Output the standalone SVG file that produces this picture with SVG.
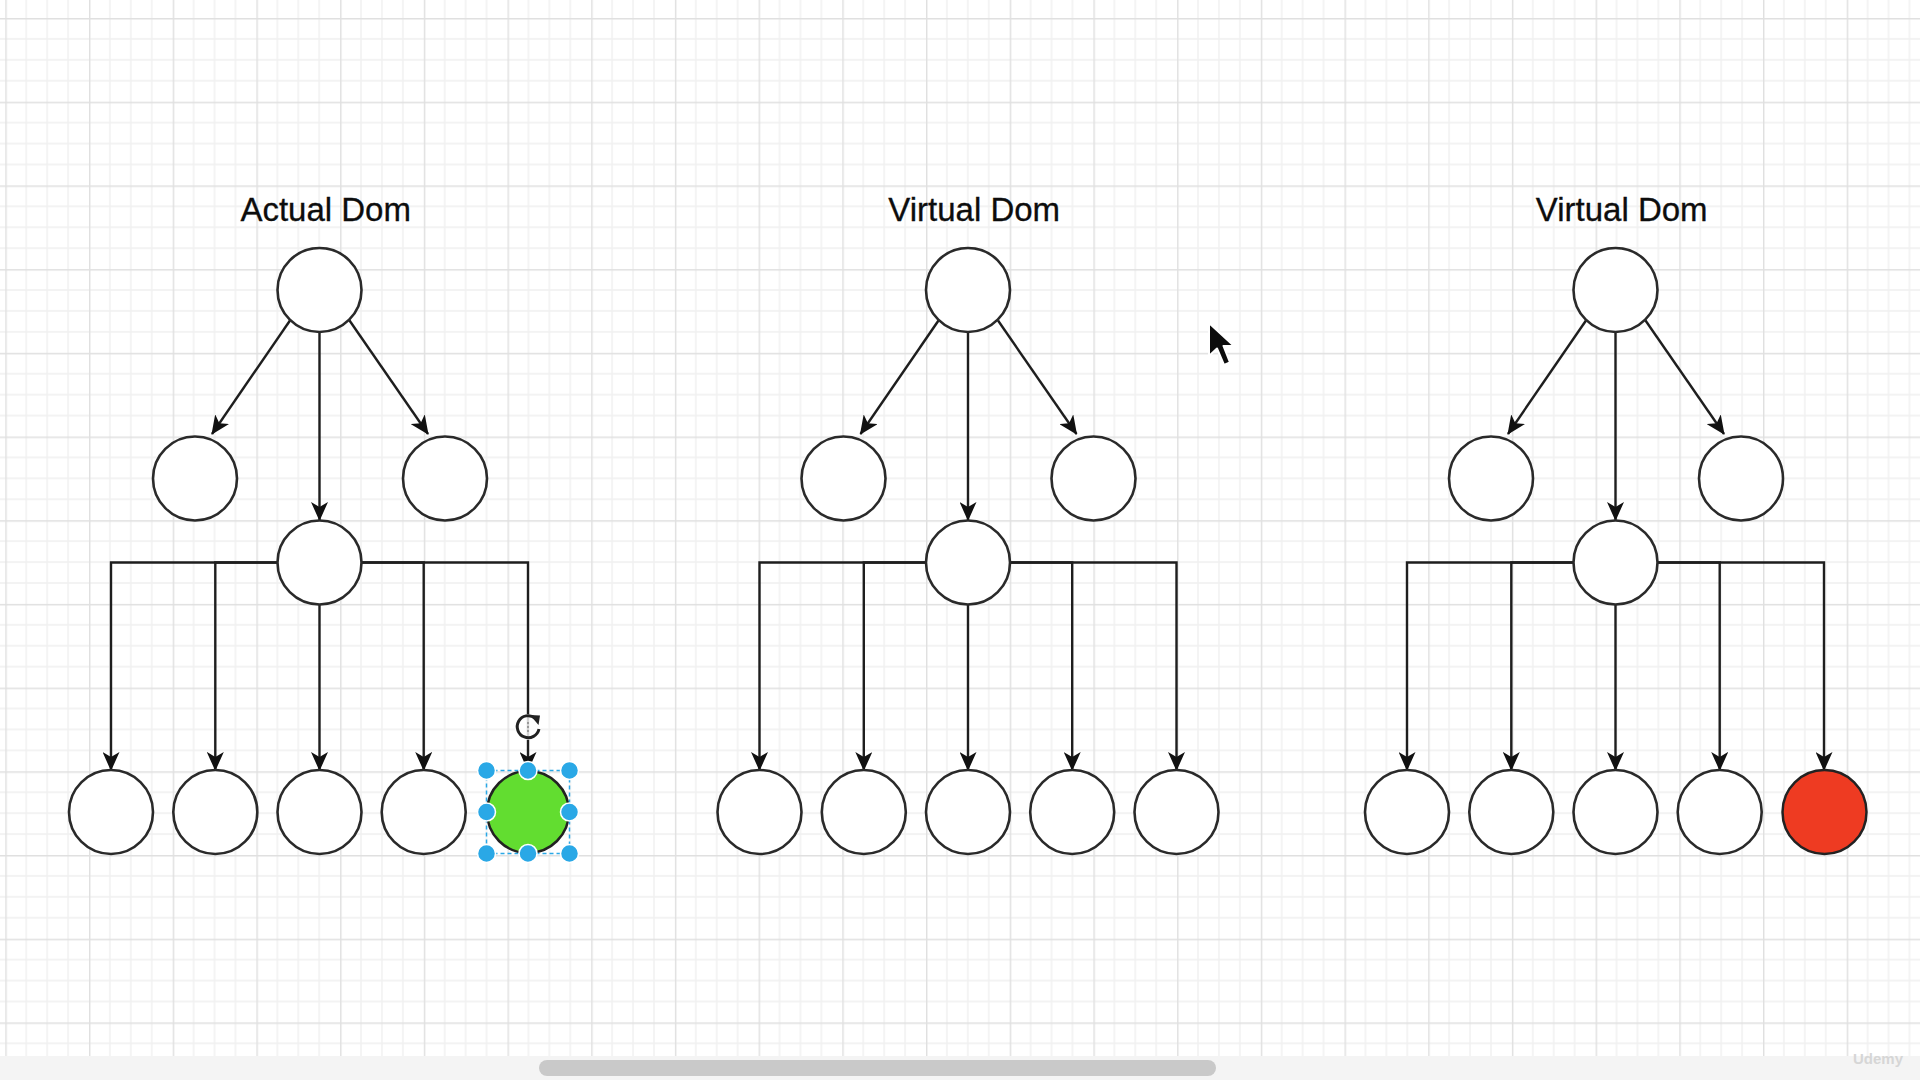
<svg xmlns="http://www.w3.org/2000/svg" width="1920" height="1080" viewBox="0 0 1920 1080">
<style>
.node{fill:#ffffff;stroke:#2a2a2a;stroke-width:2.6}
.edge{fill:none;stroke:#1e1e1e;stroke-width:2.4}
.title{font-family:"Liberation Sans",Arial,sans-serif;font-size:33px;fill:#0d0d0d;text-anchor:middle;stroke:#0d0d0d;stroke-width:0.3}
.handle{fill:#2aa8e6;stroke:#ffffff;stroke-width:1.5}
</style>
<defs>
<pattern id="grid" x="5.3" y="18" width="83.7" height="83.7" patternUnits="userSpaceOnUse">
<path d="M20.925,0V83.7M41.85,0V83.7M62.775,0V83.7M0,20.925H83.7M0,41.85H83.7M0,62.775H83.7" stroke="#f0f0f0" stroke-width="1.4" fill="none"/>
<path d="M0.7,0V83.7M0,0.7H83.7" stroke="#e0e0e0" stroke-width="1.5" fill="none"/>
</pattern>
<marker id="arr" viewBox="0 0 19 17" refX="18" refY="8.5" markerWidth="19" markerHeight="17" markerUnits="userSpaceOnUse" orient="auto">
<path d="M0,0 L19,8.5 L0,17 L5,8.5 Z" fill="#111111"/>
</marker>
</defs>
<rect x="0" y="0" width="1920" height="1080" fill="#ffffff"/>
<rect x="0" y="0" width="1920" height="1080" fill="url(#grid)"/>

<g id="tree1">
<text class="title" x="325.7" y="220.7">Actual Dom</text>
<g id="connectors1">
<path class="edge" d="M290,320.5 L212,434" marker-end="url(#arr)"/>
<path class="edge" d="M349.5,320.5 L428,434" marker-end="url(#arr)"/>
<path class="edge" d="M319.5,332 V520" marker-end="url(#arr)"/>
<path class="edge" d="M277.5,562.5 H111 V770" marker-end="url(#arr)"/>
<path class="edge" d="M277.5,562.5 H215.3 V770" marker-end="url(#arr)"/>
<path class="edge" d="M319.5,604.5 V770" marker-end="url(#arr)"/>
<path class="edge" d="M361.5,562.5 H423.7 V770" marker-end="url(#arr)"/>
<path class="edge" d="M361.5,562.5 H528 V770" marker-end="url(#arr)"/>
</g>
<g id="t1-root"><circle class="node" cx="319.5" cy="290" r="42"/></g>
<g id="t1-midL"><circle class="node" cx="195" cy="478.5" r="42"/></g>
<g id="t1-midR"><circle class="node" cx="445" cy="478.5" r="42"/></g>
<g id="t1-center"><circle class="node" cx="319.5" cy="562.5" r="42"/></g>
<g id="t1-b1"><circle class="node" cx="111" cy="812" r="42"/></g>
<g id="t1-b2"><circle class="node" cx="215.3" cy="812" r="42"/></g>
<g id="t1-b3"><circle class="node" cx="319.5" cy="812" r="42"/></g>
<g id="t1-b4"><circle class="node" cx="423.7" cy="812" r="42"/></g>
<g id="t1-b5">
<circle cx="528" cy="812" r="41" fill="#62dd30" stroke="#222222" stroke-width="2.5"/>
<rect x="486.5" y="770.5" width="83" height="83" fill="none" stroke="#2aa8e6" stroke-width="1.5" stroke-dasharray="4 3"/>
<circle class="handle" cx="486.5" cy="770.5" r="9"/>
<circle class="handle" cx="528" cy="770.5" r="9"/>
<circle class="handle" cx="569.5" cy="770.5" r="9"/>
<circle class="handle" cx="486.5" cy="812" r="9"/>
<circle class="handle" cx="569.5" cy="812" r="9"/>
<circle class="handle" cx="486.5" cy="853.5" r="9"/>
<circle class="handle" cx="528" cy="853.5" r="9"/>
<circle class="handle" cx="569.5" cy="853.5" r="9"/>
<circle cx="528" cy="727" r="13" fill="#ffffff" fill-opacity="0.8"/>
<path d="M535,718 A11,11 0 1 0 539,729" fill="none" stroke="#222222" stroke-width="3"/>
<path d="M530,715 L540,715.5 L538.5,725 Z" fill="#222222"/>
<path d="M528,722 V734" stroke="#888888" stroke-width="1.5" stroke-dasharray="2 2"/>
</g>
</g>

<g id="tree2" transform="translate(648.5,0)">
<text class="title" x="325.7" y="220.7">Virtual Dom</text>
<g id="connectors2">
<path class="edge" d="M290,320.5 L212,434" marker-end="url(#arr)"/>
<path class="edge" d="M349.5,320.5 L428,434" marker-end="url(#arr)"/>
<path class="edge" d="M319.5,332 V520" marker-end="url(#arr)"/>
<path class="edge" d="M277.5,562.5 H111 V770" marker-end="url(#arr)"/>
<path class="edge" d="M277.5,562.5 H215.3 V770" marker-end="url(#arr)"/>
<path class="edge" d="M319.5,604.5 V770" marker-end="url(#arr)"/>
<path class="edge" d="M361.5,562.5 H423.7 V770" marker-end="url(#arr)"/>
<path class="edge" d="M361.5,562.5 H528 V770" marker-end="url(#arr)"/>
</g>
<g id="t2-root"><circle class="node" cx="319.5" cy="290" r="42"/></g>
<g id="t2-midL"><circle class="node" cx="195" cy="478.5" r="42"/></g>
<g id="t2-midR"><circle class="node" cx="445" cy="478.5" r="42"/></g>
<g id="t2-center"><circle class="node" cx="319.5" cy="562.5" r="42"/></g>
<g id="t2-b1"><circle class="node" cx="111" cy="812" r="42"/></g>
<g id="t2-b2"><circle class="node" cx="215.3" cy="812" r="42"/></g>
<g id="t2-b3"><circle class="node" cx="319.5" cy="812" r="42"/></g>
<g id="t2-b4"><circle class="node" cx="423.7" cy="812" r="42"/></g>
<g id="t2-b5"><circle class="node" cx="528" cy="812" r="42"/></g>
</g>

<g id="tree3" transform="translate(1296,0)">
<text class="title" x="325.7" y="220.7">Virtual Dom</text>
<g id="connectors3">
<path class="edge" d="M290,320.5 L212,434" marker-end="url(#arr)"/>
<path class="edge" d="M349.5,320.5 L428,434" marker-end="url(#arr)"/>
<path class="edge" d="M319.5,332 V520" marker-end="url(#arr)"/>
<path class="edge" d="M277.5,562.5 H111 V770" marker-end="url(#arr)"/>
<path class="edge" d="M277.5,562.5 H215.3 V770" marker-end="url(#arr)"/>
<path class="edge" d="M319.5,604.5 V770" marker-end="url(#arr)"/>
<path class="edge" d="M361.5,562.5 H423.7 V770" marker-end="url(#arr)"/>
<path class="edge" d="M361.5,562.5 H528 V770" marker-end="url(#arr)"/>
</g>
<g id="t3-root"><circle class="node" cx="319.5" cy="290" r="42"/></g>
<g id="t3-midL"><circle class="node" cx="195" cy="478.5" r="42"/></g>
<g id="t3-midR"><circle class="node" cx="445" cy="478.5" r="42"/></g>
<g id="t3-center"><circle class="node" cx="319.5" cy="562.5" r="42"/></g>
<g id="t3-b1"><circle class="node" cx="111" cy="812" r="42"/></g>
<g id="t3-b2"><circle class="node" cx="215.3" cy="812" r="42"/></g>
<g id="t3-b3"><circle class="node" cx="319.5" cy="812" r="42"/></g>
<g id="t3-b4"><circle class="node" cx="423.7" cy="812" r="42"/></g>
<g id="t3-b5"><circle cx="528.5" cy="812" r="42" fill="#ee3b22" stroke="#222222" stroke-width="2.5"/></g>
</g>

<g id="cursor">
<path d="M1209,323 V356 L1217,348.5 L1224,365 L1230,362.5 L1223.5,346 L1234,346 Z" fill="#000000" stroke="#ffffff" stroke-width="2" stroke-linejoin="round" opacity="0.95"/>
</g>

<rect x="0" y="1056" width="1920" height="24" fill="#f4f4f4"/>
<rect x="539" y="1060" width="677" height="16" rx="8" fill="#c9c9c9"/>
<text x="1878" y="1064" font-family="'Liberation Sans',Arial,sans-serif" font-size="15" font-weight="bold" fill="#d6d6d6" text-anchor="middle">Udemy</text>
</svg>
